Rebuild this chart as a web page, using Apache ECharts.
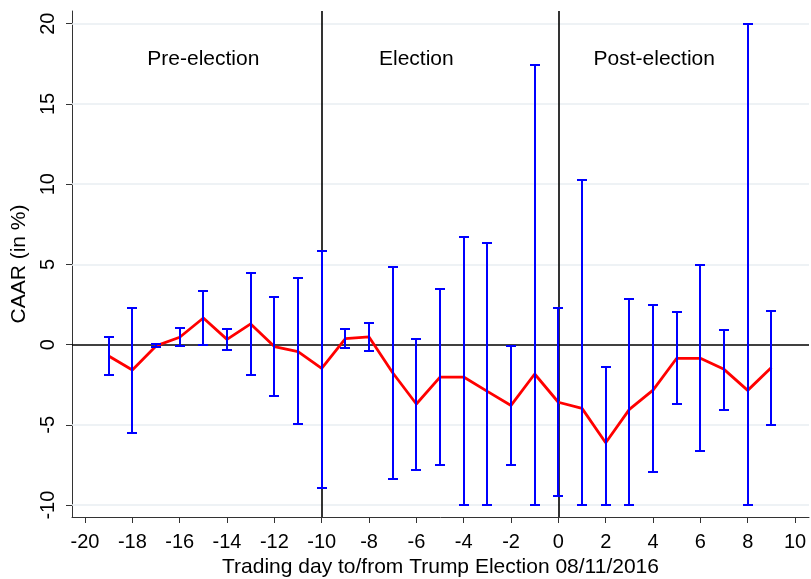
<!DOCTYPE html>
<html>
<head>
<meta charset="utf-8">
<script src="https://cdn.jsdelivr.net/npm/echarts@6/dist/echarts.min.js"></script>
<style>html,body{margin:0;padding:0;background:#fff;}#c{width:811px;height:579px;}</style>
</head>
<body>
<div id="c"></div>
<script>
var days = [-19,-18,-17,-16,-15,-14,-13,-12,-11,-10,-9,-8,-7,-6,-5,-4,-3,-2,-1,0,1,2,3,4,5,6,7,8,9];
var caar = [-0.71,-1.58,-0.08,0.46,1.66,0.33,1.29,-0.12,-0.44,-1.48,0.37,0.48,-1.75,-3.70,-2.02,-2.02,-2.91,-3.79,-1.83,-3.59,-3.97,-6.11,-4.03,-2.83,-0.85,-0.85,-1.54,-2.85,-1.43];
var upper = [0.50,2.31,0.04,1.02,3.37,0.96,4.45,2.99,4.14,5.86,0.96,1.37,4.86,0.37,3.45,6.71,6.34,-0.10,17.43,2.27,10.26,-1.39,2.83,2.45,2.01,4.97,0.89,20.0,2.12];
var lower = [-1.91,-5.51,-0.15,-0.08,-0.04,-0.33,-1.91,-3.22,-4.97,-8.94,-0.21,-0.37,-8.36,-7.82,-7.53,-10,-10,-7.49,-10,-9.42,-10,-10,-10,-7.94,-3.68,-6.65,-4.06,-10,-5.03];
var xTicks = [-20,-18,-16,-14,-12,-10,-8,-6,-4,-2,0,2,4,6,8,10];
var yTicks = [-10,-5,0,5,10,15,20];
var refDays = [-10, 0];
var refLevel = [0];
var periodNames = ['Pre-election','Election','Post-election'];
var periodCenters = [-15, -6, 4.05];
var periodLevel = 17.8;
var xName = 'Trading day to/from Trump Election 08/11/2016';
var yName = 'CAAR (in %)';

var font = 'Liberation Sans, Arial, Helvetica, sans-serif';
var chart = echarts.init(document.getElementById('c'), null, {renderer:'canvas'});

var errData = days.map(function(d,i){ return [d, lower[i], upper[i]]; });
var lineData = days.map(function(d,i){ return [d, caar[i]]; });
var textData = periodNames.map(function(n,i){ return {value:[periodCenters[i], periodLevel], name:n}; });

var option = {
  animation:false,
  backgroundColor:'#ffffff',
  grid:{left:72, right:2, top:11, bottom:62, containLabel:false, outerBoundsMode:'none'},
  xAxis:{
    type:'value', min:-20.55, max:10.59,
    name:xName, nameLocation:'middle', nameGap:38,
    nameTextStyle:{color:'#000', fontSize:21, fontFamily:font},
    axisLine:{show:true, onZero:false, lineStyle:{color:'#333', width:1}},
    axisTick:{show:true, inside:false, length:6, customValues:xTicks, lineStyle:{color:'#333'}},
    axisLabel:{customValues:xTicks, color:'#000', fontSize:20, fontFamily:font, margin:15},
    splitLine:{show:false}
  },
  yAxis:{
    type:'value', min:-10.74, max:20.79,
    name:yName, nameLocation:'middle', nameGap:35, nameRotate:90,
    nameTextStyle:{color:'#000', fontSize:21, fontFamily:font},
    axisLine:{show:true, onZero:false, lineStyle:{color:'#333', width:1}},
    axisTick:{show:true, inside:false, length:6, customValues:yTicks, lineStyle:{color:'#333'}},
    axisLabel:{customValues:yTicks, rotate:90, color:'#000', fontSize:20, fontFamily:font, margin:14},
    splitLine:{show:false}
  },
  series:[
    {
      type:'line', data:[], silent:true, z:1,
      markLine:{
        silent:true, symbol:'none', label:{show:false}, z:1,
        lineStyle:{color:'#e8eef2', width:1.5, type:'solid'},
        data: yTicks.filter(function(v){return v!==0;}).map(function(v){ return {yAxis:v}; })
      }
    },
    {
      type:'line', data:[], silent:true, z:2,
      markLine:{
        silent:true, symbol:'none', label:{show:false}, z:2,
        lineStyle:{color:'#000', width:1.6, type:'solid'},
        data: refDays.map(function(v){ return {xAxis:v}; }).concat(refLevel.map(function(v){ return {yAxis:v}; }))
      }
    },
    {
      type:'line', data:lineData, symbol:'none', z:3,
      lineStyle:{color:'#ff0000', width:2.8}
    },
    {
      type:'custom', data:errData, z:4,
      renderItem:function(params, api){
        var x = api.value(0);
        var lo = api.coord([x, api.value(1)]);
        var hi = api.coord([x, api.value(2)]);
        var cx = Math.round(lo[0]);
        var ly = Math.round(lo[1]), hy = Math.round(hi[1]);
        var hw = 5;
        var st = {stroke:'#0000ff', lineWidth:2};
        return {type:'group', children:[
          {type:'line', shape:{x1:cx, y1:ly, x2:cx, y2:hy}, style:st},
          {type:'line', shape:{x1:cx-hw, y1:ly, x2:cx+hw, y2:ly}, style:st},
          {type:'line', shape:{x1:cx-hw, y1:hy, x2:cx+hw, y2:hy}, style:st}
        ]};
      }
    },
    {
      type:'scatter', data:textData, symbolSize:0, silent:true, z:5,
      itemStyle:{opacity:1},
      label:{show:true, position:'inside', formatter:'{b}', color:'#000', opacity:1, fontSize:21, fontFamily:font}
    }
  ]
};
chart.setOption(option);
</script>
</body>
</html>
